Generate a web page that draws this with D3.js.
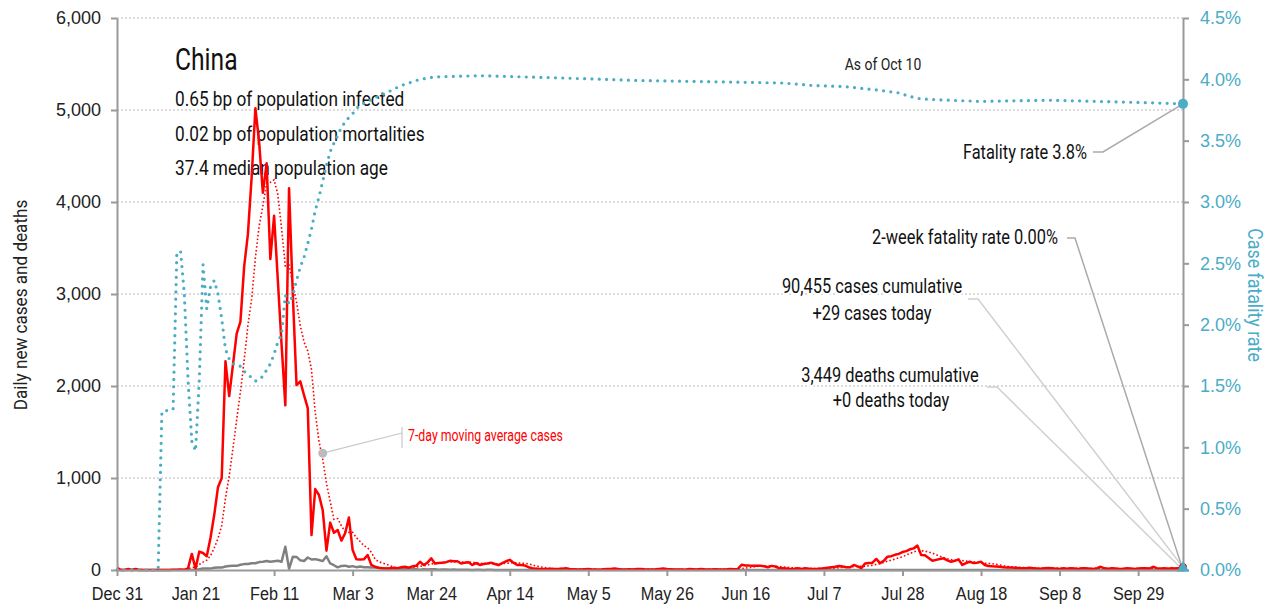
<!DOCTYPE html>
<html>
<head>
<meta charset="utf-8">
<script src="https://cdn.jsdelivr.net/npm/d3@7"></script>
<style>
  body { margin: 0; background: #fff; }
  svg { display: block; font-family: Roboto, "Noto Sans", sans-serif; }
</style>
</head>
<body>
<svg id="chart" width="1273" height="611"></svg>
<script>
// series start on Dec 31, one value per day
const startDate = new Date(2019, 11, 31);
const endDate = new Date(2020, 9, 11);

// daily new cases (rows of 10 days)
const dailyCases = [
  27, 0, 0, 12, 0, 10, 0, 0, 0, 0,
  0, 0, 0, 0, 0, 3, 4, 5, 2, 20,
  175, 15, 200, 185, 150, 350, 600, 900, 1000, 2270,
  1890, 2230, 2570, 2700, 3300, 3650, 4270, 5020, 4650, 4100,
  4420, 3380, 3850, 3150, 2450, 1790, 4150, 3000, 2010, 2050,
  1900, 1760, 380, 880, 815, 650, 210, 515, 405, 435,
  320, 400, 570, 217, 116, 115, 116, 163, 55, 35,
  25, 20, 15, 20, 25, 20, 30, 35, 25, 40,
  45, 90, 55, 80, 127, 70, 75, 80, 85, 100,
  95, 95, 70, 80, 85, 55, 75, 55, 65, 70,
  80, 65, 53, 75, 95, 110, 80, 55, 55, 50,
  30, 20, 15, 12, 12, 10, 15, 10, 12, 15,
  20, 10, 8, 6, 5, 8, 10, 6, 5, 4,
  8, 10, 12, 17, 10, 6, 5, 8, 6, 10,
  12, 8, 6, 5, 7, 12, 17, 10, 8, 6,
  5, 6, 4, 10, 8, 6, 12, 8, 6, 5,
  8, 6, 5, 7, 10, 8, 12, 57, 50, 48,
  47, 45, 45, 40, 30, 45, 38, 20, 18, 15,
  12, 14, 18, 12, 20, 15, 10, 12, 15, 20,
  25, 30, 35, 43, 38, 30, 30, 55, 40, 20,
  70, 75, 80, 120, 75, 100, 145, 150, 165, 175,
  195, 205, 225, 235, 265, 163, 160, 130, 100, 110,
  120, 127, 105, 90, 100, 116, 55, 75, 90, 75,
  80, 90, 55, 43, 40, 38, 36, 30, 28, 26,
  25, 22, 20, 18, 24, 20, 16, 14, 18, 22,
  20, 15, 12, 18, 14, 20, 16, 12, 18, 20,
  15, 12, 20, 35, 18, 14, 20, 16, 12, 14,
  18, 16, 12, 15, 18, 20, 16, 35, 20, 15,
  18, 14, 20, 16, 22, 29
];

// daily new deaths
const dailyDeaths = [
  0, 0, 0, 0, 0, 0, 0, 0, 0, 0,
  0, 1, 0, 0, 0, 0, 0, 0, 0, 0,
  0, 0, 8, 16, 15, 15, 24, 26, 26, 38,
  43, 46, 45, 57, 64, 65, 73, 73, 86, 89,
  97, 90, 95, 100, 90, 253, 13, 143, 142, 105,
  98, 136, 114, 118, 109, 97, 150, 71, 52, 29,
  44, 47, 35, 42, 31, 38, 31, 30, 28, 27,
  22, 17, 22, 11, 7, 13, 10, 14, 13, 11,
  8, 3, 7, 6, 9, 7, 4, 6, 5, 3,
  5, 4, 4, 3, 3, 1, 2, 2, 1, 3,
  2, 1, 0, 1, 0, 0, 1, 0, 0, 0,
  0, 0, 1, 0, 0, 0, 0, 0, 0, 0,
  0, 0, 0, 0, 0, 0, 0, 0, 0, 0,
  0, 0, 0, 0, 0, 0, 0, 0, 0, 0,
  0, 0, 0, 0, 0, 0, 0, 0, 0, 0,
  0, 0, 0, 0, 0, 0, 0, 0, 0, 0,
  0, 0, 0, 0, 0, 0, 0, 0, 0, 0,
  0, 0, 0, 0, 0, 0, 0, 0, 0, 0,
  0, 0, 0, 0, 0, 0, 0, 0, 0, 0,
  0, 0, 0, 0, 0, 0, 0, 0, 0, 0,
  0, 0, 0, 0, 0, 0, 0, 0, 0, 0,
  0, 0, 0, 0, 0, 0, 0, 0, 0, 0,
  0, 0, 0, 0, 0, 0, 0, 0, 0, 0,
  0, 0, 0, 0, 0, 0, 0, 0, 0, 0,
  0, 0, 0, 0, 0, 0, 0, 0, 0, 0,
  0, 0, 0, 0, 0, 0, 0, 0, 0, 0,
  0, 0, 0, 0, 0, 0, 0, 0, 0, 0,
  0, 0, 0, 0, 0, 0, 0, 0, 0, 0,
  0, 0, 0, 0, 0, 0
];

// 7-day moving average of cases (day offset, value)
const maDays = [0, 6, 12, 18, 20, 21, 22, 23, 24, 25, 26, 27, 28, 29, 30, 31, 32, 33, 34, 35,
  36, 37, 38, 39, 40, 41, 42, 43, 44, 45, 46, 47, 48, 49, 50, 51, 52, 53, 54, 55,
  56, 57, 58, 59, 60, 61, 62, 63, 64, 65, 66, 67, 68, 69, 70, 71, 72, 73, 74, 75,
  76, 78, 80, 81, 82, 83, 84, 85, 86, 88, 90, 92, 94, 96, 98, 100, 102, 104, 106, 108,
  110, 112, 114, 116, 118, 122, 130, 140, 150, 160, 166, 167, 168, 169, 170, 172, 174, 176, 178, 180,
  182, 184, 188, 192, 195, 198, 200, 202, 204, 206, 208, 210, 212, 214, 216, 218, 220, 222, 224, 226,
  228, 230, 232, 234, 236, 238, 240, 244, 250, 260, 270, 280, 285];
const maValues = [4, 4, 0, 2, 27, 29, 60, 86, 107, 156, 239, 343, 484, 779, 1023, 1320, 1637, 1937, 2280, 2659,
  2945, 3393, 3739, 3957, 4203, 4213, 4241, 4081, 3714, 3306, 3313, 3110, 2914, 2657, 2479, 2380, 2179, 1711, 1399, 1205,
  942, 744, 551, 559, 479, 419, 408, 409, 352, 310, 265, 242, 193, 117, 89, 76, 61, 48, 28, 23,
  22, 24, 31, 41, 46, 53, 66, 72, 76, 87, 90, 86, 87, 79, 69, 69, 66, 72, 80, 75,
  68, 44, 28, 16, 12, 12, 8, 9, 8, 7, 8, 15, 21, 27, 33, 43, 44, 41, 34, 25,
  19, 16, 15, 21, 32, 39, 40, 53, 69, 95, 119, 144, 180, 209, 207, 183, 150, 122, 107, 102,
  90, 84, 74, 68, 55, 39, 32, 22, 18, 17, 17, 17, 20];

// case fatality rate in % (day offset, value)
const cfrDays = [0, 11, 12, 13, 14, 15, 16, 17, 18, 19, 20, 21, 22, 23, 24, 25, 26, 27, 28, 29,
  30, 31, 32, 33, 34, 35, 36, 37, 38, 39, 40, 41, 42, 43, 44, 45, 46, 47, 48, 49,
  50, 51, 52, 53, 54, 55, 56, 57, 58, 59, 60, 61, 62, 63, 64, 65, 67, 69, 72, 76,
  81, 85, 97, 120, 140, 160, 178, 186, 195, 204, 209, 212, 215, 222, 231, 249, 275, 285];
const cfrValues = [0, 0, 1.29, 1.30, 1.30, 1.31, 2.58, 2.60, 2.25, 1.55, 1.05, 0.97, 1.55, 2.49, 2.13, 2.31, 2.36, 2.25, 2.05, 1.80,
  1.72, 1.68, 1.68, 1.66, 1.62, 1.59, 1.57, 1.54, 1.55, 1.58, 1.63, 1.68, 1.76, 1.86, 1.92, 2.24, 2.17, 2.24, 2.36, 2.47,
  2.55, 2.66, 2.78, 2.93, 3.04, 3.17, 3.30, 3.41, 3.48, 3.54, 3.61, 3.65, 3.69, 3.72, 3.76, 3.79, 3.82, 3.85, 3.89, 3.95,
  4.00, 4.02, 4.03, 4.01, 3.99, 3.98, 3.97, 3.95, 3.94, 3.91, 3.89, 3.86, 3.84, 3.83, 3.82, 3.83, 3.81, 3.80];

const leftTicks = [0, 1000, 2000, 3000, 4000, 5000, 6000];
const rightTicks = [0, 0.5, 1, 1.5, 2, 2.5, 3, 3.5, 4, 4.5];
const xTickDates = ["2019-12-31", "2020-01-21", "2020-02-11", "2020-03-03", "2020-03-24", "2020-04-14", "2020-05-05",
  "2020-05-26", "2020-06-16", "2020-07-07", "2020-07-28", "2020-08-18", "2020-09-08", "2020-09-29"];

const country = "China";
const infoLines = ["0.65 bp of population infected", "0.02 bp of population mortalities", "37.4 median population age"];
const fatalityRate = 3.8;
const twoWeekRate = "0.00%";
const casesCumulative = "90,455";
const deathsCumulative = "3,449";

if (dailyCases.length !== 286 || dailyDeaths.length !== 286) throw new Error("bad length " + dailyCases.length + " " + dailyDeaths.length);
if (maDays.length !== maValues.length || cfrDays.length !== cfrValues.length) throw new Error("bad pairs");

const blue = "#4bacc6";
const axisGrey = "#999";
const dayDate = (d) => d3.timeDay.offset(startDate, d);
const parseDay = d3.timeParse("%Y-%m-%d");

// the reference face is a condensed gothic; squeeze Roboto horizontally
const squeeze = (sel, k) =>
  sel.each(function () {
    const w = this.getComputedTextLength();
    d3.select(this).attr("textLength", w * k).attr("lengthAdjust", "spacingAndGlyphs");
  });

const svg = d3.select("#chart");

const x = d3.scaleTime().domain([startDate, endDate]).range([117, 1183]);
const yL = d3.scaleLinear().domain([0, 6000]).range([570, 18]);
const yR = d3.scaleLinear().domain([0, 4.5]).range([570, 18]);

// gridlines for the left axis
svg.append("g")
  .selectAll("line")
  .data(leftTicks.slice(1))
  .join("line")
  .attr("x1", 117)
  .attr("x2", 1183)
  .attr("y1", (d) => yL(d))
  .attr("y2", (d) => yL(d))
  .attr("stroke", "#b8b8b8")
  .attr("stroke-dasharray", "2,2");

// title block
svg.append("text")
  .attr("x", 175).attr("y", 70)
  .attr("font-size", 32)
  .attr("fill", "#111")
  .text(country)
  .call(squeeze, 0.77);
svg.append("g")
  .selectAll("text")
  .data(infoLines)
  .join("text")
  .attr("x", 175)
  .attr("y", (d, i) => 106 + i * 34.5)
  .attr("font-size", 21)
  .attr("fill", "#111")
  .text((d) => d)
  .call(squeeze, 0.82);

// series
const lineDaily = d3.line().x((v, i) => x(dayDate(i))).y((v) => yL(v));

svg.append("path")
  .datum(maDays.map((d, i) => [d, maValues[i]]))
  .attr("fill", "none")
  .attr("stroke", "red")
  .attr("stroke-width", 1.6)
  .attr("stroke-dasharray", "1.6,2.2")
  .attr("d", d3.line().x((p) => x(dayDate(p[0]))).y((p) => yL(p[1])));

svg.append("path")
  .datum(dailyDeaths)
  .attr("fill", "none")
  .attr("stroke", "#808080")
  .attr("stroke-width", 2.5)
  .attr("stroke-linejoin", "round")
  .attr("d", lineDaily);

svg.append("path")
  .datum(dailyCases)
  .attr("fill", "none")
  .attr("stroke", "red")
  .attr("stroke-width", 2.5)
  .attr("stroke-linejoin", "round")
  .attr("d", lineDaily);

svg.append("path")
  .datum(cfrDays.map((d, i) => [d, cfrValues[i]]))
  .attr("fill", "none")
  .attr("stroke", blue)
  .attr("stroke-width", 3.2)
  .attr("stroke-linecap", "round")
  .attr("stroke-dasharray", "0,7.3")
  .attr("d", d3.line().x((p) => x(dayDate(p[0]))).y((p) => yR(p[1])));

// axes
const styleAxis = (g, color) => {
  g.select(".domain").attr("stroke", axisGrey).attr("stroke-width", 2);
  g.selectAll(".tick line").attr("stroke", axisGrey).attr("stroke-width", 2);
  g.selectAll(".tick text").attr("fill", color).attr("font-size", 18).attr("font-family", null);
};

svg.append("g")
  .attr("transform", "translate(117,0)")
  .call(d3.axisLeft(yL).tickValues(leftTicks).tickFormat(d3.format(",")).tickSize(6).tickSizeOuter(0).tickPadding(10))
  .call((g) => styleAxis(g, "#222"));

svg.append("g")
  .attr("transform", "translate(1183,0)")
  .call(d3.axisRight(yR).tickValues(rightTicks).tickFormat((d) => d.toFixed(1) + "%").tickSize(6).tickSizeOuter(0).tickPadding(11))
  .call((g) => styleAxis(g, blue));

svg.append("g")
  .attr("transform", "translate(0,570)")
  .call(d3.axisBottom(x).tickValues(xTickDates.map(parseDay)).tickFormat(d3.timeFormat("%b %-d")).tickSize(6).tickSizeOuter(0).tickPadding(11))
  .call((g) => styleAxis(g, "#222"))
  .call((g) => g.selectAll(".tick text").call(squeeze, 0.9));

// axis titles
svg.append("text")
  .attr("transform", "translate(20,305) rotate(-90)")
  .attr("text-anchor", "middle")
  .attr("dominant-baseline", "central")
  .attr("font-size", 18)
  .attr("fill", "#222")
  .text("Daily new cases and deaths")
  .call(squeeze, 0.95);
svg.append("text")
  .attr("transform", "translate(1255,295) rotate(90)")
  .attr("text-anchor", "middle")
  .attr("dominant-baseline", "central")
  .attr("font-size", 20)
  .attr("fill", blue)
  .text("Case fatality rate")
  .call(squeeze, 0.89);

// annotations
const lastDay = dailyCases.length - 1;
const endX = x(dayDate(lastDay));

svg.append("text")
  .attr("x", 883).attr("y", 70)
  .attr("text-anchor", "middle")
  .attr("font-size", 17)
  .attr("fill", "#222")
  .text("As of Oct 10")
  .call(squeeze, 0.82);

const leader = (pts, color) =>
  svg.append("path")
    .attr("d", d3.line()(pts))
    .attr("fill", "none")
    .attr("stroke", color)
    .attr("stroke-width", 1.5);

leader([[987, 387], [997, 387], [endX, yL(dailyDeaths[lastDay])]], "#d0d0d0");
leader([[968, 299], [978, 299], [endX, yL(dailyCases[lastDay])]], "#d0d0d0");
leader([[1067, 238], [1075, 238], [endX, yR(0)]], "#aaa");
leader([[1093, 152], [1103, 152], [endX, yR(cfrValues[cfrValues.length - 1])]], "#aaa");

const note = (txt, xx, yy, anchor) =>
  svg.append("text")
    .attr("x", xx).attr("y", yy)
    .attr("text-anchor", anchor)
    .attr("font-size", 21)
    .attr("fill", "#111")
    .attr("stroke", "#fff")
    .attr("stroke-width", 5)
    .attr("paint-order", "stroke")
    .text(txt)
    .call(squeeze, 0.78);

note("Fatality rate " + fatalityRate.toFixed(1) + "%", 1087, 159, "end");
note("2-week fatality rate " + twoWeekRate, 1058, 244, "end");
note(casesCumulative + " cases cumulative", 872, 293, "middle");
note("+" + dailyCases[lastDay] + " cases today", 872, 320, "middle");
note(deathsCumulative + " deaths cumulative", 890, 382, "middle");
note("+" + dailyDeaths[lastDay] + " deaths today", 891, 407, "middle");

// end markers
svg.append("circle")
  .attr("cx", endX).attr("cy", yL(dailyCases[lastDay]))
  .attr("r", 4).attr("fill", "red");
svg.append("path")
  .attr("d", d3.symbol(d3.symbolTriangle, 64)())
  .attr("transform", `translate(${endX},${yR(0) - 2})`)
  .attr("fill", blue);
svg.append("circle")
  .attr("cx", endX).attr("cy", yR(cfrValues[cfrValues.length - 1]))
  .attr("r", 5).attr("fill", blue);

// moving average label
const maDot = [x(dayDate(55)), yL(1270)];
svg.append("path")
  .attr("d", d3.line()([maDot, [402, 433]]))
  .attr("stroke", "#c8c8c8").attr("stroke-width", 1.2).attr("fill", "none");
svg.append("line")
  .attr("x1", 402).attr("x2", 402).attr("y1", 427).attr("y2", 448)
  .attr("stroke", "#c8c8c8").attr("stroke-width", 1.2);
svg.append("circle")
  .attr("cx", maDot[0]).attr("cy", maDot[1])
  .attr("r", 4.5).attr("fill", "#bbb");
svg.append("text")
  .attr("x", 408).attr("y", 441)
  .attr("font-size", 16)
  .attr("fill", "red")
  .text("7-day moving average cases")
  .call(squeeze, 0.77);
</script>
</body>
</html>
